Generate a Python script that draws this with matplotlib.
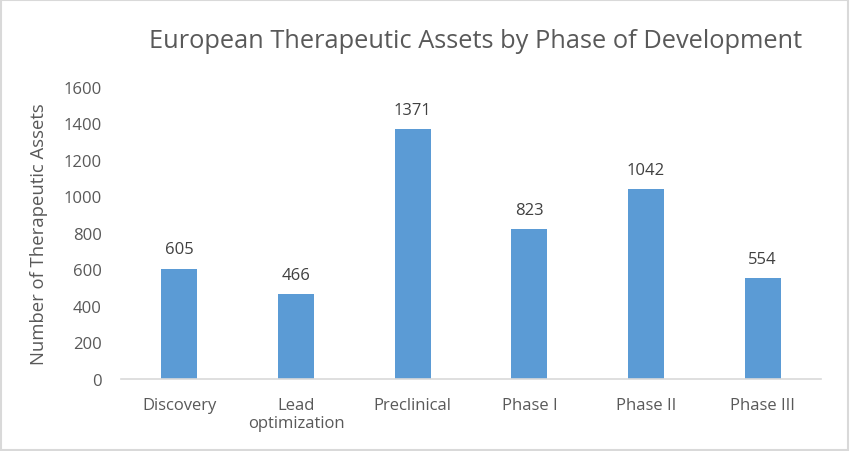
import matplotlib.pyplot as plt
from matplotlib.patches import Rectangle

phases = ['Discovery', 'Lead\noptimization', 'Preclinical', 'Phase I', 'Phase II', 'Phase III']
assets = [605, 466, 1371, 823, 1042, 554]
yticks = [0, 200, 400, 600, 800, 1000, 1200, 1400, 1600]

plt.rcParams['font.family'] = ['Open Sans', 'DejaVu Sans']

fig = plt.figure(figsize=(8.5, 4.52), dpi=100)
ax = fig.add_axes([121/850, 1 - 380/452, 700/850, 292/452])

x = range(len(phases))
bars = ax.bar(x, assets, width=0.31, color='#5b9bd5', zorder=2)

for b, v in zip(bars, assets):
    ax.annotate(str(v), (b.get_x() + b.get_width()/2, v), xytext=(0, 8),
                textcoords='offset points', ha='center', va='bottom',
                fontsize=12, color='#404040')

ax.set_xlim(-0.5, len(phases) - 0.5)
ax.set_ylim(0, 1600)
ax.set_yticks(yticks)
ax.set_xticks(list(x))
ax.set_xticklabels(phases, linespacing=1.2)
ax.tick_params(axis='both', length=0, labelsize=12, labelcolor='#595959')
ax.tick_params(axis='x', pad=13)
ax.tick_params(axis='y', pad=14)

for s in ['top', 'right', 'left']:
    ax.spines[s].set_visible(False)
ax.spines['bottom'].set_color('#d9d9d9')
ax.spines['bottom'].set_linewidth(1.2)

ax.set_ylabel('Number of Therapeutic Assets', fontsize=13.3, color='#595959', labelpad=11)
fig.text(476/850, 1 - 41/452, 'European Therapeutic Assets by Phase of Development',
         ha='center', va='center', fontsize=18.3, color='#595959')

fig.patches.append(Rectangle((0.001, 0.002), 0.997, 0.996, transform=fig.transFigure,
                             fill=False, edgecolor='#d9d9d9', linewidth=1.5))

fig.savefig('out.png', dpi=100)
